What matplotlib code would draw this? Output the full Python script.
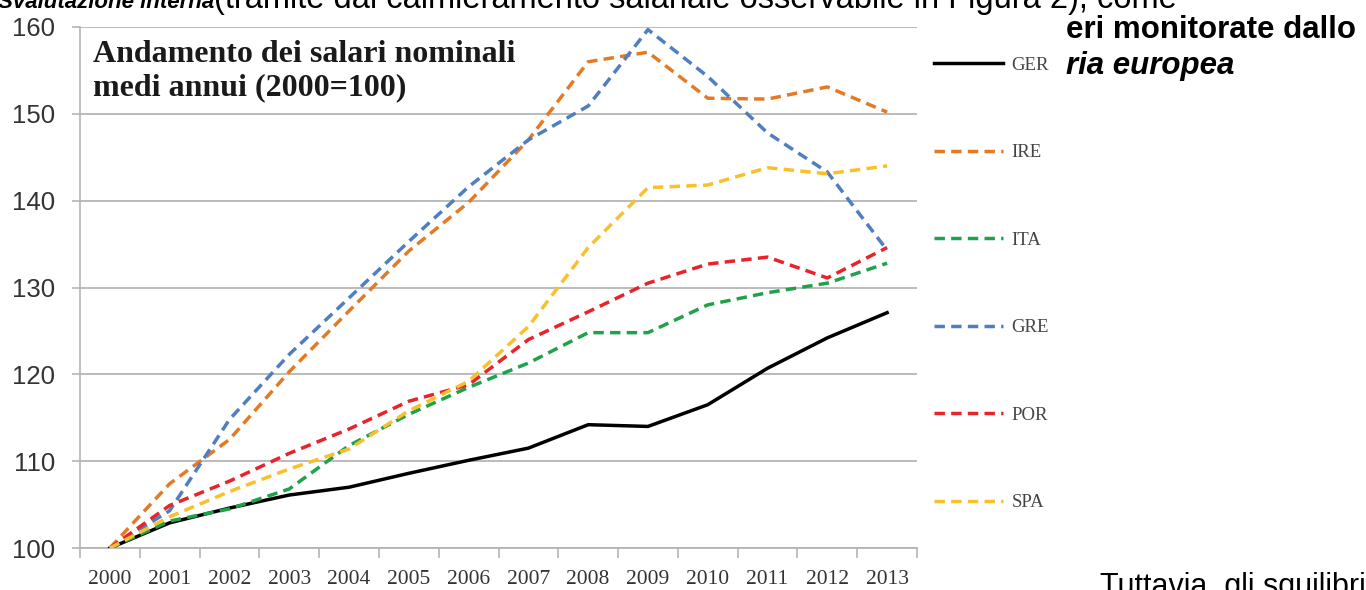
import matplotlib
matplotlib.use("Agg")
import matplotlib.pyplot as plt
import numpy as np

years = ["2000", "2001", "2002", "2003", "2004", "2005", "2006",
         "2007", "2008", "2009", "2010", "2011", "2012", "2013"]
ger = [100, 102.9, 104.6, 106.1, 107.0, 108.6, 110.1, 111.5, 114.2, 114.0, 116.5, 120.7, 124.2, 127.1]
ire = [100, 107.4, 112.5, 120.3, 127.3, 134.2, 139.8, 147.0, 156.0, 157.1, 151.8, 151.7, 153.1, 150.2]
ita = [100, 103.1, 104.5, 106.8, 111.8, 115.4, 118.5, 121.3, 124.8, 124.8, 128.0, 129.4, 130.5, 132.8]
gre = [100, 104.3, 114.8, 122.3, 128.8, 135.3, 141.6, 147.0, 150.9, 159.7, 154.3, 147.8, 143.3, 134.3]
por = [100, 104.9, 107.7, 110.9, 113.7, 116.9, 118.8, 124.0, 127.2, 130.5, 132.7, 133.5, 131.1, 134.6]
spa = [100, 103.6, 106.5, 109.1, 111.4, 115.8, 119.2, 125.5, 134.6, 141.5, 141.8, 143.8, 143.1, 144.0]

series = [("GER", ger, "#000000", "-"),
          ("IRE", ire, "#E57A25", "--"),
          ("ITA", ita, "#1FA24A", "--"),
          ("GRE", gre, "#4F7EC1", "--"),
          ("POR", por, "#E8232B", "--"),
          ("SPA", spa, "#F8C02A", "--")]

W, H = 1366, 590
fig = plt.figure(figsize=(W / 100, H / 100), dpi=100)
fig.patch.set_facecolor("white")
ax = fig.add_axes([80 / W, 1 - 548 / H, (917 - 80) / W, (548 - 27) / H])

x = np.arange(len(years))
handles = []
for name, vals, col, ls in series:
    if ls == "-":
        ln, = ax.plot(x, vals, color=col, lw=2.5, ls="-", label=name,
                      solid_joinstyle="round", zorder=3)
    else:
        ln, = ax.plot(x, vals, color=col, lw=2.5, label=name,
                      dashes=(3.0, 1.8), zorder=3)
    handles.append(ln)

ax.set_xlim(-0.5, len(years) - 0.5)
ax.set_ylim(100, 160)
ax.set_yticks(range(100, 161, 10))
ax.set_yticklabels([str(v) for v in range(100, 161, 10)],
                   fontfamily="Liberation Sans", fontsize=18.5, color="#333333")
ax.yaxis.grid(True, color="#b5b5b5", lw=1.3)
ax.set_axisbelow(True)
ax.tick_params(axis="y", length=6, width=1.2, color="#b5b5b5", pad=12)

ax.set_xticks(np.arange(-0.5, len(years) - 0.4, 1.0))
ax.set_xticklabels([])
ax.set_xticks(x, minor=True)
ax.set_xticklabels(years, minor=True, fontfamily="Liberation Serif",
                   fontsize=15.5, color="#333333")
ax.tick_params(axis="x", which="major", length=7, width=1.2, color="#b5b5b5")
ax.tick_params(axis="x", which="minor", length=0, pad=16)

for s in ["top", "right"]:
    ax.spines[s].set_visible(False)
ax.spines["left"].set_color("#b5b5b5")
ax.spines["left"].set_linewidth(1.2)
ax.spines["bottom"].set_color("#b5b5b5")
ax.spines["bottom"].set_linewidth(1.3)

ax.text((93 - 80) / (917 - 80), 1 - (40 - 27) / (548 - 27),
        "Andamento dei salari nominali\nmedi annui (2000=100)",
        transform=ax.transAxes, ha="left", va="top",
        fontfamily="Liberation Serif", fontweight="bold", fontsize=23,
        linespacing=1.2, color="#1a1a1a")

fig.legend(handles=handles, loc="upper left",
           bbox_to_anchor=(917 / W, 1 - 40 / H), frameon=False,
           prop={"family": "Liberation Serif", "size": 13.5},
           handlelength=3.7, handletextpad=0.45, labelspacing=3.75,
           labelcolor="#444444")

# overlaid page text
fig.text(-2 / W, 1 - 8 / H, "Svalutazione interna", ha="left", va="baseline",
         fontfamily="Liberation Sans", fontweight="bold", fontstyle="italic",
         fontsize=16, color="black")
fig.text(214 / W, 1 - 8 / H,
         "(tramite dal calmieramento salariale osservabile in Figura 2), come",
         ha="left", va="baseline", fontfamily="Liberation Sans",
         fontsize=23.5, color="black")
fig.text(1066 / W, 1 - 38 / H, "eri monitorate dallo", ha="left", va="baseline",
         fontfamily="Liberation Sans", fontweight="bold", fontsize=22.5, color="black")
fig.text(1066 / W, 1 - 74 / H, "ria europea", ha="left", va="baseline",
         fontfamily="Liberation Sans", fontweight="bold", fontstyle="italic",
         fontsize=22.5, color="black")
fig.text(1100 / W, 1 - 572 / H, "Tuttavia, gli squilibri", ha="left", va="top",
         fontfamily="Liberation Sans", fontsize=22, color="black")

fig.savefig("out.png", dpi=100, facecolor="white")
